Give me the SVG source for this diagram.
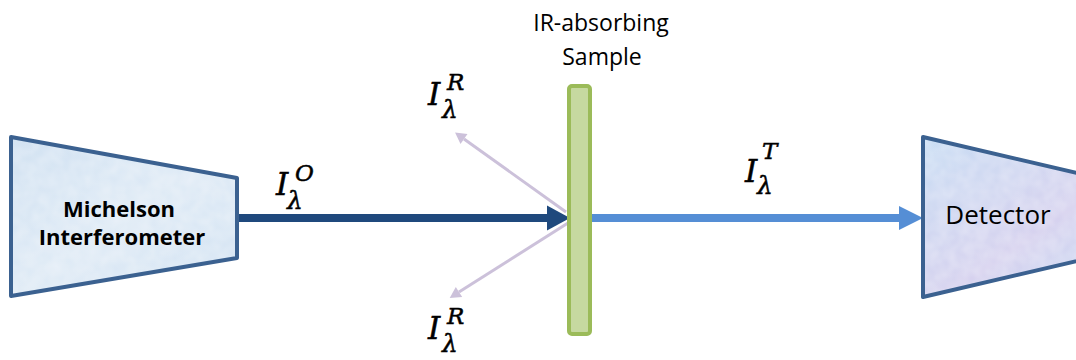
<svg xmlns="http://www.w3.org/2000/svg" width="1076" height="360" viewBox="0 0 1076 360">
<defs>
<style>
.box{fill:none;stroke:#3b6190;stroke-width:4;stroke-linejoin:round}
.lbl{font-family:"Open Sans","Liberation Sans",sans-serif;fill:#000}
.math{font-family:"DejaVu Serif","Liberation Serif",serif;font-style:italic;fill:#000;stroke:#000;stroke-width:0.5}
.big{font-size:31px}
.sup{font-size:23px}
.sub{font-size:25px}
</style>
<linearGradient id="gMich" x1="0" y1="0" x2="1" y2="1">
<stop offset="0" stop-color="#cddff1"/><stop offset="0.5" stop-color="#dde9f5"/><stop offset="1" stop-color="#d0e1f2"/>
</linearGradient>
<linearGradient id="gDet" x1="0" y1="0" x2="1" y2="1">
<stop offset="0" stop-color="#c4dbf3"/><stop offset="0.55" stop-color="#d4cfee"/><stop offset="1" stop-color="#bfdaf4"/>
</linearGradient>
<filter id="tex" x="0" y="0" width="1" height="1">
<feTurbulence type="fractalNoise" baseFrequency="0.08" numOctaves="2" seed="3" result="n"/>
<feColorMatrix in="n" type="matrix" values="0 0 0 0 1  0 0 0 0 1  0 0 0 0 1  0 0 0 0.35 0" result="w"/>
<feComposite in="w" in2="SourceGraphic" operator="in" result="wc"/>
<feMerge><feMergeNode in="SourceGraphic"/><feMergeNode in="wc"/></feMerge>
</filter>
<marker id="ahDark" markerWidth="6" markerHeight="6" refX="0" refY="3" orient="auto" markerUnits="userSpaceOnUse" viewBox="0 0 6 6" overflow="visible">
<path d="M0,-9.5 L23,3 L0,15.5 Z" fill="#1f497d"/>
</marker>
<marker id="ahLight" markerWidth="6" markerHeight="6" refX="0" refY="3" orient="auto" markerUnits="userSpaceOnUse" viewBox="0 0 6 6" overflow="visible">
<path d="M0,-9 L24,3 L0,15 Z" fill="#558ed5"/>
</marker>
<marker id="ahLav" markerWidth="6" markerHeight="6" refX="0" refY="3" orient="auto" markerUnits="userSpaceOnUse" viewBox="0 0 6 6" overflow="visible">
<path d="M0,-3 L11,3 L0,9 Z" fill="#ccc1da"/>
</marker>
</defs>
<rect width="1076" height="360" fill="#ffffff"/>

<g id="connectors">
<line x1="566" y1="212" x2="464" y2="139" stroke="#ccc1da" stroke-width="3" marker-end="url(#ahLav)"/>
<line x1="568" y1="223" x2="459" y2="292" stroke="#ccc1da" stroke-width="3" marker-end="url(#ahLav)"/>
<line x1="237" y1="218" x2="547" y2="218" stroke="#1f497d" stroke-width="8" marker-end="url(#ahDark)"/>
<line x1="591" y1="218" x2="899" y2="218" stroke="#558ed5" stroke-width="8" marker-end="url(#ahLight)"/>
</g>

<g id="michelson">
<path d="M11,137 L237,178 L237,258 L11,296 Z" fill="url(#gMich)" filter="url(#tex)"/>
<path class="box" d="M11,137 L237,178 L237,258 L11,296 Z"/>
<text class="lbl" x="119" y="217" font-size="22" font-weight="bold" text-anchor="middle">Michelson</text>
<text class="lbl" x="122" y="245" font-size="22" font-weight="bold" text-anchor="middle">Interferometer</text>
</g>

<g id="sample">
<rect x="569" y="86" width="21" height="248" rx="3" fill="#c6d9a0" stroke="#9bbb59" stroke-width="4"/>
<text class="lbl" x="601" y="31" font-size="23" text-anchor="middle">IR-absorbing</text>
<text class="lbl" x="602" y="65" font-size="23" text-anchor="middle">Sample</text>
</g>

<g id="detector">
<path d="M923,137 L1150,190 L1150,244 L923,297 Z" fill="url(#gDet)" filter="url(#tex)"/>
<path class="box" d="M923,137 L1150,190 L1150,244 L923,297 Z"/>
<text class="lbl" x="998" y="224" font-size="26" text-anchor="middle">Detector</text>
</g>

<g id="labels">
<text class="math big" x="428" y="105">I</text>
<text class="math sup" x="447" y="90">R</text>
<text class="math sub" x="442" y="118">λ</text>

<text class="math big" x="428" y="339">I</text>
<text class="math sup" x="447" y="324">R</text>
<text class="math sub" x="442" y="352">λ</text>

<text class="math big" x="276" y="195">I</text>
<text class="math sup" x="295" y="181">O</text>
<text class="math sub" x="287" y="209">λ</text>

<text class="math big" x="745" y="182">I</text>
<text class="math sup" x="762" y="159">T</text>
<text class="math sub" x="757" y="194">λ</text>
</g>
</svg>
